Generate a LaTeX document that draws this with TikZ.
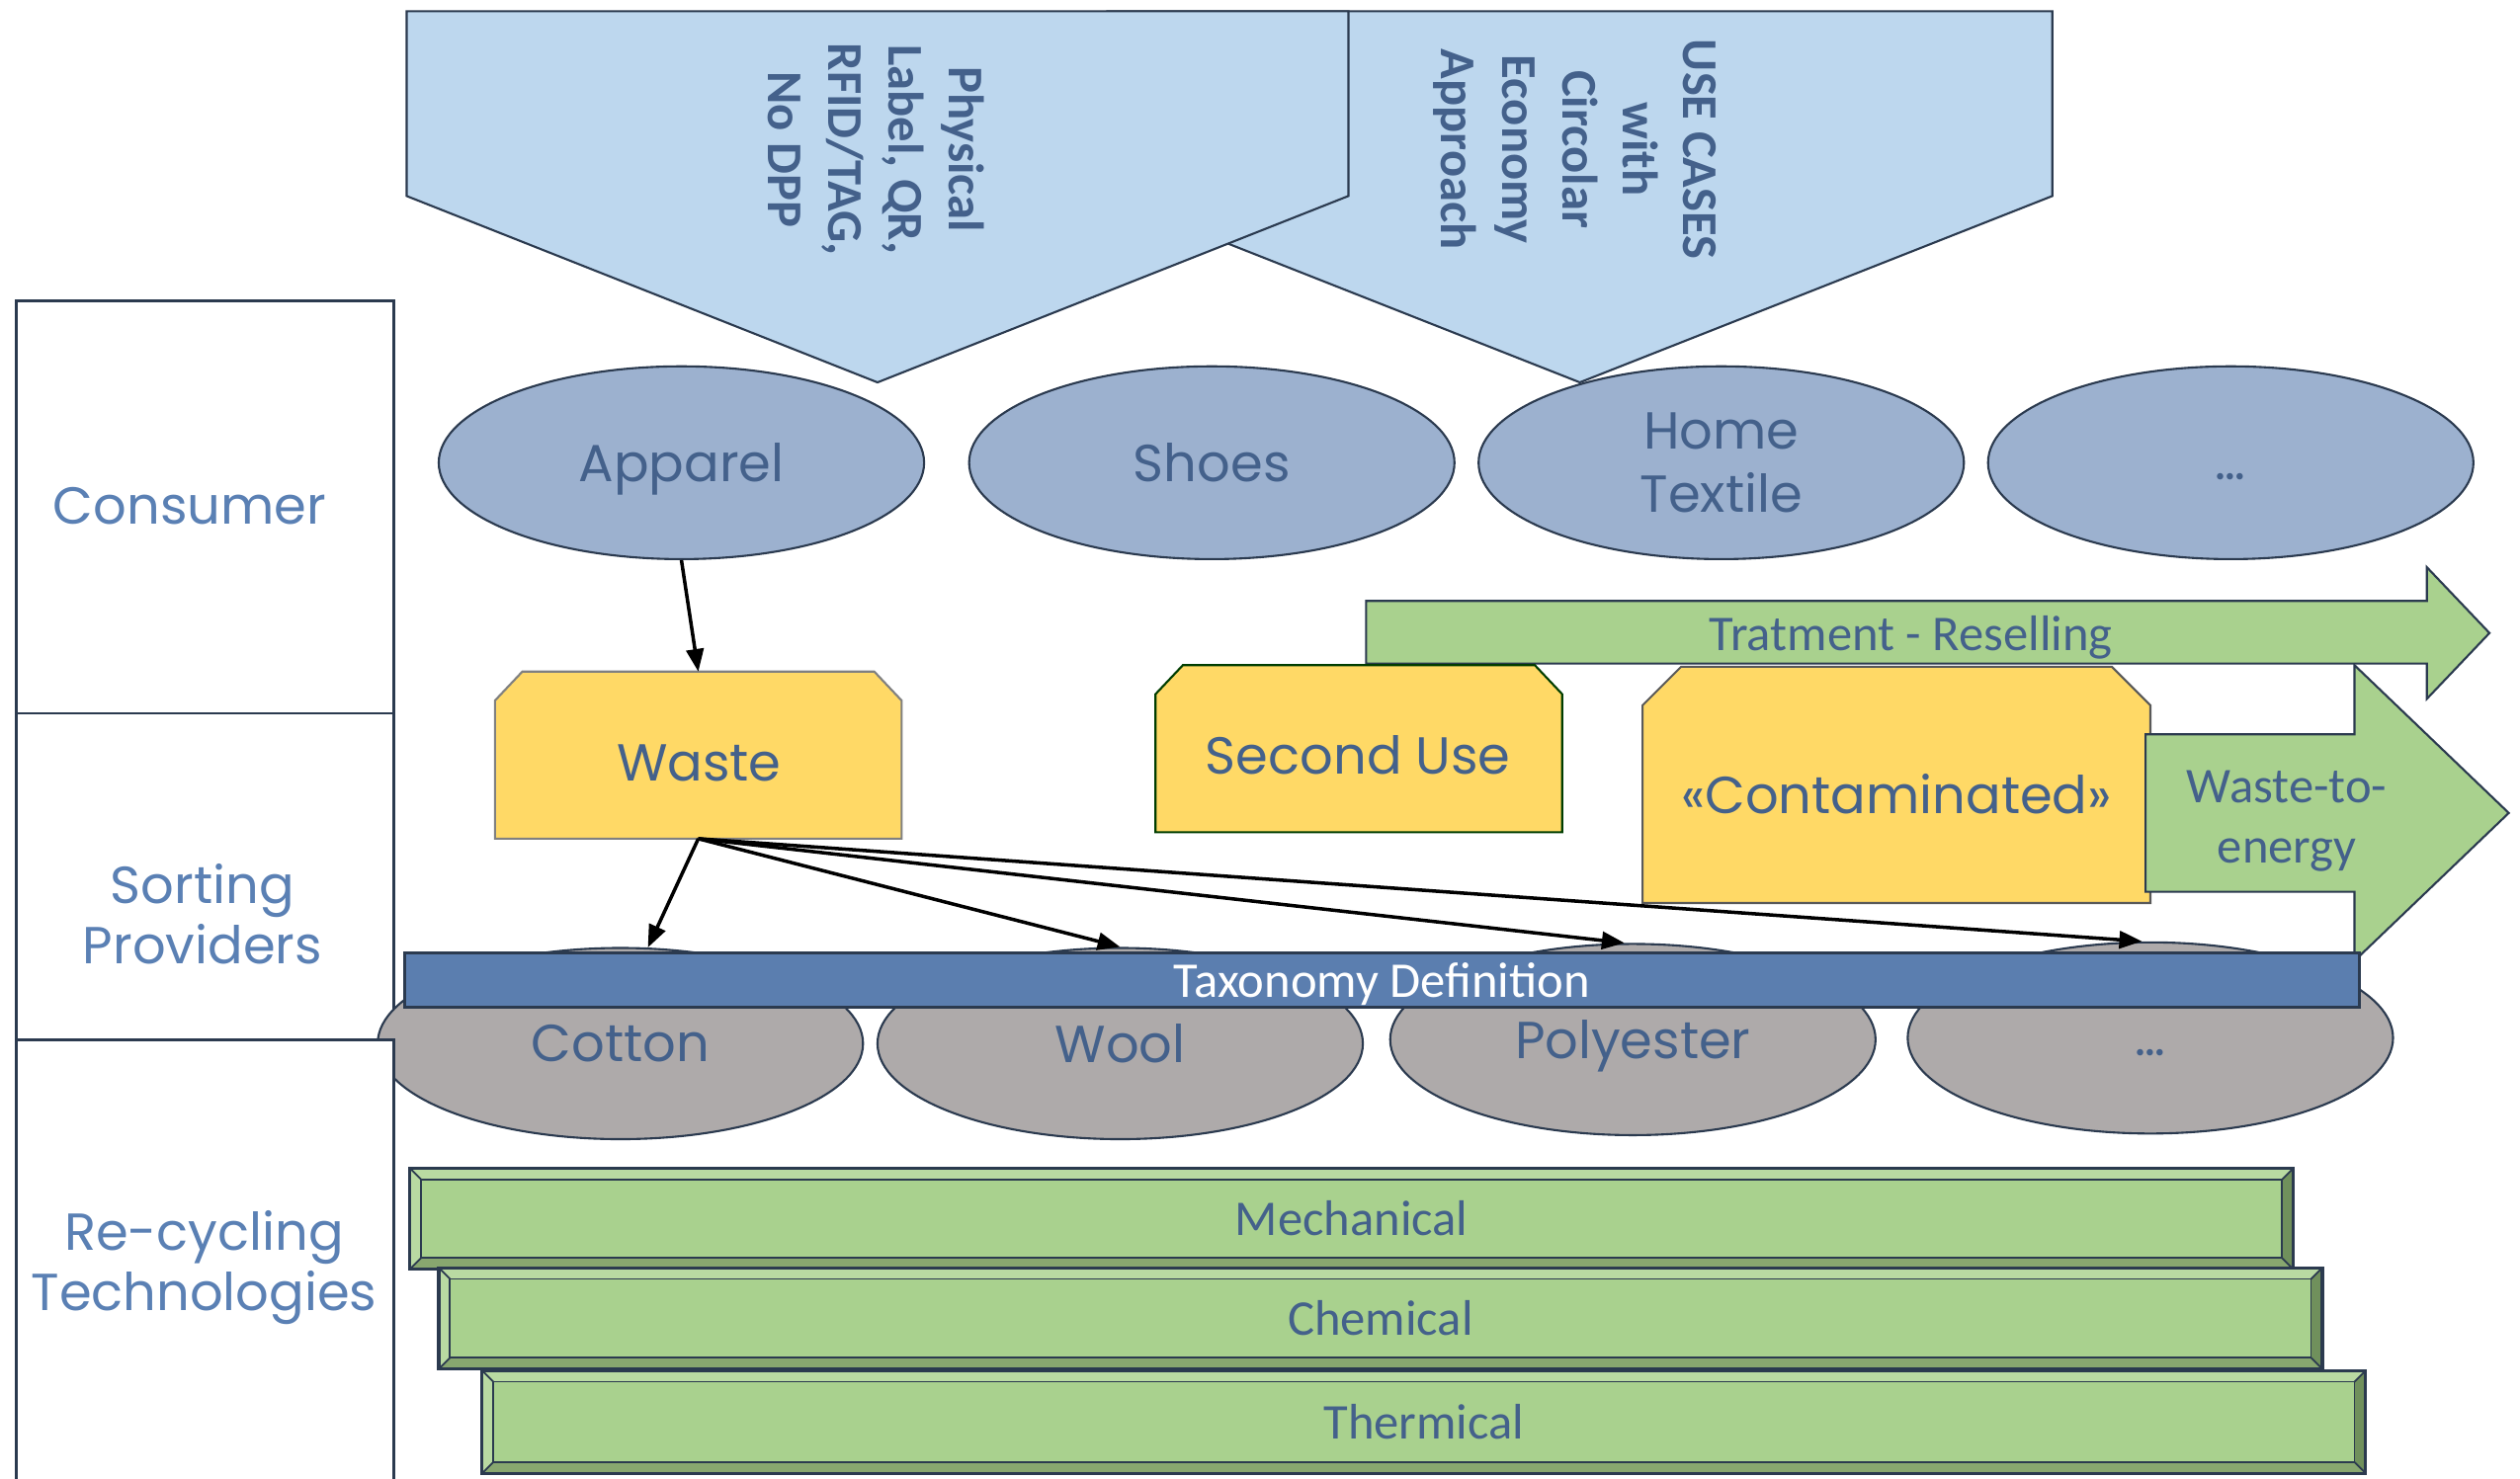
\documentclass[tikz,border=0pt]{standalone}
\usepackage{fontspec}
\usetikzlibrary{shapes.geometric,arrows.meta}
\newfontfamily\popf{Poppins}
\newfontfamily\carf{Carlito}
\definecolor{txt}{HTML}{44618B}
\definecolor{lbl}{HTML}{5A80B4}
\definecolor{penta}{HTML}{BDD7EE}
\definecolor{ellb}{HTML}{9CB1CF}
\definecolor{ellg}{HTML}{AEAAAA}
\definecolor{yel}{HTML}{FFD966}
\definecolor{grn}{HTML}{A9D18E}
\definecolor{grnl}{HTML}{B9DAA2}
\definecolor{grnd}{HTML}{88A76F}
\definecolor{grnr}{HTML}{70905C}
\definecolor{taxb}{HTML}{5B7EAF}
\definecolor{edge}{HTML}{2B3A4F}
\def\dU{0.016263cm}
\newcommand\nodepth[1]{\raisebox{0pt}[\height][0pt]{#1}}
\newcommand\lowdots{\raisebox{-5pt}[0pt][0pt]{…}}
\newcommand\bevelbar[6]{%
  % #1 name, #2 x1, #3 y1, #4 x2, #5 y2, #6 text
  \fill[grn] (#2,#3) rectangle (#4,#5);
  \fill[grnl] (#2,#3) -- (#4,#3) -- (#4-7,#3+7) -- (#2+7,#3+7) -- cycle;
  \fill[grnl] (#2,#3) -- (#2+7,#3+7) -- (#2+7,#5-7) -- (#2,#5) -- cycle;
  \fill[grnd] (#2,#5) -- (#2+7,#5-7) -- (#4-7,#5-7) -- (#4,#5) -- cycle;
  \fill[grnr] (#4,#3) -- (#4,#5) -- (#4-7,#5-7) -- (#4-7,#3+7) -- cycle;
  \draw[draw=edge, line width=0.5pt] (#2+7,#3+7) rectangle (#4-7,#5-7);
  \draw[draw=edge, line width=0.5pt] (#2,#3) -- (#2+7,#3+7) (#4,#3) -- (#4-7,#3+7)
     (#2,#5) -- (#2+7,#5-7) (#4,#5) -- (#4-7,#5-7);
  \draw[draw=edge, line width=0.9pt] (#2,#3) rectangle (#4,#5);
  \node[carltext] (#1) at ({(#2+#4)/2},{(#3+#5)/2}) {#6};
}
\begin{document}
\begin{tikzpicture}[x=0.016263cm,y=-0.016263cm,
  shapeline/.style={draw=edge, line width=0.6pt},
  ptext/.style={font=\carf\bfseries\fontsize{14.4}{17.4}\selectfont, text=txt, align=center, rotate=-90, inner sep=0},
  lanebox/.style={draw=edge, line width=0.8pt, fill=white, minimum width=235*\dU, inner sep=0, outer sep=0, anchor=north west},
  lanetext/.style={font=\popf\fontsize{15}{17.5}\selectfont, text=lbl, align=center, inner sep=0},
  blueell/.style={ellipse, draw=edge, line width=0.6pt, fill=ellb, minimum width=302*\dU, minimum height=120*\dU, inner sep=0, font=\popf\fontsize{15}{18}\selectfont, text=txt, align=center},
  greyell/.style={blueell, fill=ellg, minimum height=119*\dU},
  boxname/.style={inner sep=0, outer sep=0, anchor=north west},
  ytext/.style={font=\popf\fontsize{15}{18}\selectfont, text=txt, inner sep=0},
  carltext/.style={font=\carf\fontsize{14.4}{17.4}\selectfont, text=txt, align=center, inner sep=0},
  conn/.style={draw=black, line width=1pt, -{Triangle[length=6.5pt,width=5pt]}}
]
\useasboundingbox (0,0) rectangle (1568,920);
\clip (0,0) rectangle (1568,920);

% top pentagons
\draw[shapeline, fill=penta] (689,7) -- (1277,7) -- (1277,122) -- (983,238) -- (689,122) -- cycle;
\draw[shapeline, fill=penta] (253,7) -- (839,7) -- (839,122) -- (546,238) -- (253,122) -- cycle;
\node[ptext] (dpp) at (545,93) {Physical\\Label, QR,\\RFID/TAG,\\No DPP};
\node[ptext] (usecases) at (980,93) {USE CASES\\with\\Circolar\\Economy\\Approach};

% lanes
\node[lanebox, minimum height=257*\dU] (laneC) at (10,187) {};
\node[lanebox, minimum height=203*\dU] (laneS) at (10,444) {};
\node[lanetext] (lblC) at (118,315) {Consumer};
\node[lanetext] (lblS) at (126,569) {Sorting\\Providers};

% consumer ellipses
\node[blueell] (apparel) at (424,288) {\nodepth{Apparel}};
\node[blueell] (shoes) at (754,288) {Shoes};
\node[blueell] (home) at (1071,288) {Home\\Textile};
\node[blueell] (dots1) at (1388,288) {\lowdots};

% contaminated box
\draw[draw=black!65, line width=0.6pt, fill=yel] (1022,562) -- (1022,439) -- (1046,415) -- (1314,415) -- (1338,439) -- (1338,562) -- cycle;
\node[boxname, minimum width=316*\dU, minimum height=147*\dU] (contam) at (1022,415) {};
\node[ytext] (contamT) at (1180,494) {«Contaminated»};

% waste-to-energy arrow
\draw[shapeline, fill=grn] (1335,457) -- (1465,457) -- (1465,414) -- (1561,506) -- (1465,598) -- (1465,555) -- (1335,555) -- cycle;
\node[carltext] (wte) at (1423,511) {Waste-to-\\energy};

% treatment arrow
\draw[shapeline, fill=grn] (850,374) -- (1510,374) -- (1510,353) -- (1549,394) -- (1510,435) -- (1510,413) -- (850,413) -- cycle;
\node[carltext] (treat) at (1189,394) {\nodepth{Tratment - Reselling}};

% waste and second use
\draw[draw=black!50, line width=0.6pt, fill=yel] (308,522) -- (308,436) -- (325,418) -- (544,418) -- (561,436) -- (561,522) -- cycle;
\node[boxname, minimum width=253*\dU, minimum height=104*\dU] (waste) at (308,418) {};
\node[ytext] (wasteT) at (435,475) {Waste};
\draw[draw=black!60!green!60!black, line width=0.6pt, fill=yel] (719,518) -- (719,432) -- (736,414) -- (955,414) -- (972,432) -- (972,518) -- cycle;
\node[boxname, minimum width=253*\dU, minimum height=104*\dU] (second) at (719,414) {};
\node[ytext] (secondT) at (845,470) {Second Use};

% material ellipses
\node[greyell] (cotton) at (386,649.5) {Cotton};
\node[greyell] (wool) at (697,649.5) {Wool};
\node[greyell] (poly) at (1016,647) {\nodepth{Polyester}};
\node[greyell] (dots2) at (1338,646) {\lowdots};

% recycling lane (over the cotton ellipse)
\node[lanebox, minimum height=290*\dU] (laneR) at (10,647) {};
\node[lanetext] (lblR) at (127,789) {Re-cycling\\Technologies};

% taxonomy bar
\node[draw=edge, line width=0.8pt, fill=taxb, minimum width=1216*\dU, minimum height=34*\dU, inner sep=0, anchor=north west,
      font=\carf\fontsize{14.4}{17.4}\selectfont, text=white] (tax) at (251,592) {\nodepth{Taxonomy Definition}};

% recycling technologies
\bevelbar{mech}{255}{727}{1427}{790}{Mechanical}
\bevelbar{chem}{273}{789}{1445}{852}{Chemical}
\bevelbar{therm}{300}{853}{1472}{917}{Thermical}

% connectors
\draw[conn] (apparel.south) -- (waste.north);
\draw[conn] (waste.south) -- (cotton.74);
\draw[conn] (waste.south) -- (wool.north);
\draw[conn] (waste.south) -- (poly.95);
\draw[conn] (waste.south) -- (dots2.95);
\end{tikzpicture}
\end{document}
